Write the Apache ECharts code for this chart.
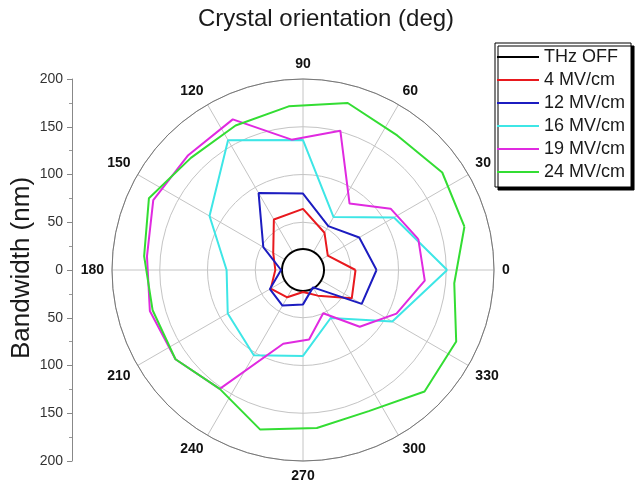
<!DOCTYPE html>
<html>
<head>
<meta charset="utf-8">
<script src="https://cdn.jsdelivr.net/npm/echarts@6/dist/echarts.min.js"></script>
<style>
html,body{margin:0;padding:0;background:#fff;}
#chart{width:636px;height:485px;}
</style>
</head>
<body>
<div id="chart"></div>
<script>
// ---- data ----
const seriesNames = ['THz OFF', '4 MV/cm', '12 MV/cm', '16 MV/cm', '19 MV/cm', '24 MV/cm'];
const seriesColors = ['#000000', '#e8191e', '#1c1cc0', '#3ee6e6', '#e02ae0', '#33dd33'];

const anglesOff = [0,15,30,45,60,75,90,105,120,135,150,165,180,195,210,225,240,255,270,285,300,315,330,345];
const thzOff    = [22,22,22,22,22,22,22,22,22,22,22,22,22,22,22,22,22,22,22,22,22,22,22,22];

const angles30 = [0,30,60,90,120,150,180,210,240,270,300,330];
const mv4  = [55,30,45,64,61,36,29,39,33,23,31,59];
const mv12 = [77,68,53,80,93,48,23,40,43,36,21,71];
const mv16 = [151,110,64,136,157,113,80,91,103,90,58,108];

const angles20 = [15,35,55,75,95,115,135,155,175,195,215,235,255,275,295,315,335,355];
const mv19 = [125,112,85,151,137,174,170,173,164,166,163,152,80,73,50,84,108,128];
const mv24 = [175,178,172,181,172,167,166,178,167,163,163,152,173,166,163,180,177,159];

const radialTicks = [200,150,100,50,0,50,100,150,200];

// ---- helpers ----
function closedPairs(angles, values) {
  const d = angles.map((a, i) => [values[i], a]);
  d.push([values[0], angles[0]]);
  return d;
}

const chart = echarts.init(document.getElementById('chart'), null, {renderer: 'canvas'});
const FONT = 'Liberation Sans, Arial, sans-serif';

const dataSets = [
  closedPairs(anglesOff, thzOff),
  closedPairs(angles30, mv4),
  closedPairs(angles30, mv12),
  closedPairs(angles30, mv16),
  closedPairs(angles20, mv19),
  closedPairs(angles20, mv24)
];

const series = dataSets.map((d, i) => ({
  name: seriesNames[i],
  type: 'line',
  coordinateSystem: 'polar',
  polarIndex: 0,
  data: d,
  symbol: 'none',
  showSymbol: false,
  smooth: i === 0 ? 0.5 : false,
  lineStyle: {color: seriesColors[i], width: 2},
  itemStyle: {color: seriesColors[i]},
  areaStyle: i === 0 ? {color: '#ffffff', opacity: 1} : undefined,
  z: 2 + i,
  animation: false
}));

const option = {
  animation: false,
  backgroundColor: '#ffffff',
  title: {
    text: 'Crystal orientation (deg)',
    left: 193,
    top: 2,
    textStyle: {fontFamily: FONT, fontSize: 24, fontWeight: 'normal', color: '#1a1a1a'}
  },
  legend: {
    orient: 'vertical',
    left: 495,
    top: 43,
    data: seriesNames.map((n, i) => ({name: n, itemStyle: {color: seriesColors[i]}})),
    icon: 'rect',
    itemWidth: 42,
    itemHeight: 2,
    itemGap: 5,
    padding: [5, 6, 6, 2],
    borderColor: '#000',
    borderWidth: 1,
    backgroundColor: '#fff',
    shadowColor: '#000',
    shadowBlur: 0,
    shadowOffsetX: 3,
    shadowOffsetY: 3,
    textStyle: {fontFamily: FONT, fontSize: 18, color: '#1a1a1a', lineHeight: 18},
    selectedMode: false
  },
  polar: {center: [303, 270], radius: 191},
  angleAxis: {
    type: 'value',
    min: 0,
    max: 360,
    interval: 30,
    startAngle: 0,
    clockwise: false,
    axisLine: {show: true, lineStyle: {color: '#777', width: 1}},
    axisTick: {show: false},
    splitLine: {show: true, lineStyle: {color: '#c4c4c4', width: 1}},
    axisLabel: {
      show: true,
      margin: 8,
      fontFamily: FONT,
      fontSize: 14,
      fontWeight: 'bold',
      color: '#111',
      formatter: v => (v >= 360 ? '' : String(v))
    }
  },
  radiusAxis: {
    type: 'value',
    min: 0,
    max: 200,
    interval: 50,
    axisLine: {show: false},
    axisTick: {show: false},
    axisLabel: {show: false},
    splitLine: {show: true, lineStyle: {color: '#c4c4c4', width: 1}}
  },
  grid: {left: 72, top: 79, height: 382, width: 2, containLabel: false},
  xAxis: {type: 'value', show: false, min: 0, max: 1},
  yAxis: {
    type: 'value',
    min: -200,
    max: 200,
    interval: 50,
    position: 'left',
    axisLine: {show: true, lineStyle: {color: '#888', width: 1}},
    axisTick: {show: true, length: 5, lineStyle: {color: '#888'}},
    minorTick: {show: true, splitNumber: 2, length: 3, lineStyle: {color: '#999'}},
    splitLine: {show: false},
    minorSplitLine: {show: false},
    axisLabel: {
      margin: 9,
      fontFamily: FONT,
      fontSize: 14,
      color: '#333',
      formatter: function (v) {
        const idx = Math.round((200 - v) / 50);
        return String(radialTicks[idx]);
      }
    }
  },
  graphic: [{
    type: 'text',
    x: 22,
    y: 268,
    rotation: Math.PI / 2,
    style: {
      text: 'Bandwidth (nm)',
      font: '26px ' + FONT,
      fill: '#1a1a1a',
      align: 'center',
      verticalAlign: 'middle',
      textAlign: 'center',
      textVerticalAlign: 'middle'
    }
  }],
  series: series
};

chart.setOption(option);
</script>
</body>
</html>
